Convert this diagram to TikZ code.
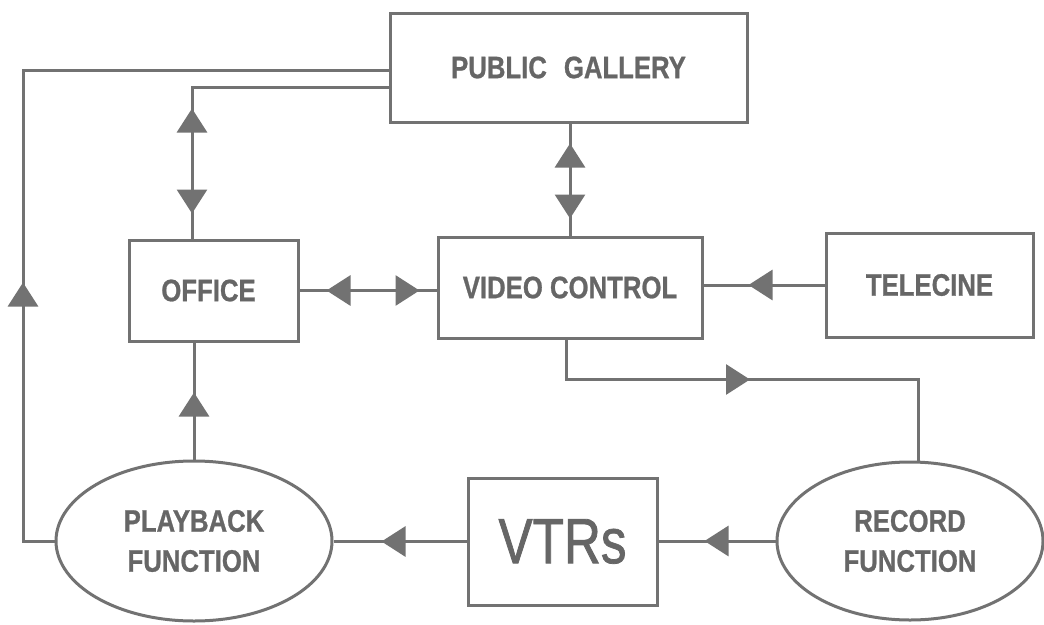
\documentclass[tikz,border=0pt]{standalone}
\usepackage{fontspec}
\newfontfamily\lblfont[FakeStretch=0.83,BoldFeatures={FakeBold=0.8}]{Liberation Sans}
\newfontfamily\bigfont[FakeStretch=0.8,FakeBold=1.2]{Liberation Sans}
\usetikzlibrary{arrows.meta,decorations.markings,shapes.geometric,calc}
\definecolor{ink}{HTML}{727272}
\definecolor{txt}{HTML}{666666}

\begin{document}
\begin{tikzpicture}[x=1pt,y=-1pt,
  color=ink,
  >={Triangle[length=24pt,width=30pt]},
  box/.style={draw=ink,line width=3pt,rectangle,inner sep=0pt,text=txt,
    font=\lblfont\bfseries\fontsize{31}{40}\selectfont,align=center},
  oval/.style={box,ellipse},
  link/.style={draw=ink,line width=3pt},
  fwd/.style={postaction={decorate,decoration={markings,
    mark=at position #1 with {\arrow{>}}}}},
  bwd/.style={postaction={decorate,decoration={markings,
    mark=at position #1 with {\arrowreversed{>}}}}},
]
\fill[white] (0,0) rectangle (1044,624);
\useasboundingbox (0,0) rectangle (1044,624);

% blocks
\node[box,minimum width=357pt,minimum height=109pt] (PG) at (568.5,67.5) {PUBLIC\hspace{17pt}GALLERY};
\node[box,minimum width=169pt,minimum height=101pt] (Office) at (213.5,290.5) {\hspace*{-10pt}OFFICE};
\node[box,minimum width=264pt,minimum height=101pt] (VC) at (570,287.5) {VIDEO CONTROL};
\node[box,minimum width=207pt,minimum height=104pt] (Tel) at (929.5,285) {TELECINE};
\node[box,minimum width=189pt,minimum height=127pt,
      font=\bigfont\fontsize{64}{64}\selectfont] (VTR) at (562.5,541.5) {VTRs};
\node[oval,minimum width=276pt,minimum height=160pt] (PB) at (194,541) {PLAYBACK\\FUNCTION};
\node[oval,minimum width=266pt,minimum height=158pt] (Rec) at (910,541) {RECORD\\FUNCTION};

% signal paths
\draw[link,fwd=290pt] (PB.west) -| (23,70) -- ([yshift=-2.5pt]PG.west);
\draw[link,fwd=130pt,bwd=25pt] ([xshift=-21.5pt]Office.north) |- ([yshift=-19.5pt]PG.west);
\draw[link,fwd=92pt,bwd=17pt] (VC.north) -- (VC.north |- PG.south);
\draw[link,bwd=27pt,fwd=120pt] (Office.east) -- (Office.east -| VC.west);
\draw[link,fwd=76pt] (Tel.west) -- (Tel.west -| VC.east);
\draw[link,fwd=224pt] ([xshift=-4pt]VC.south) -- ++(0,40) -| ([xshift=8pt]Rec.north);
\draw[link,fwd=71pt] (Rec.west) -- (Rec.west -| VTR.east);
\draw[link,fwd=85pt] (VTR.west) -- (VTR.west -| PB.east);
\draw[link,fwd=67pt] (PB.north) -- (PB.north |- Office.south);
\end{tikzpicture}
\end{document}
